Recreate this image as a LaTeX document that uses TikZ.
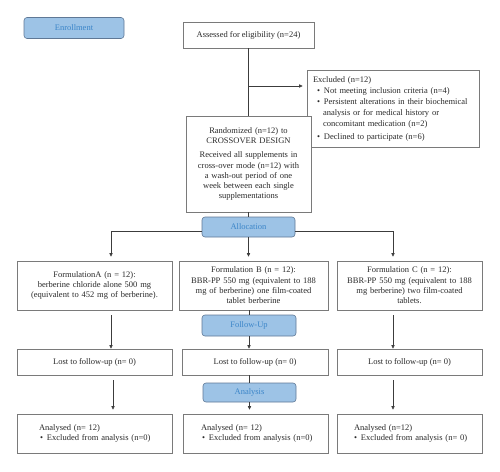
\documentclass[tikz,border=0pt]{standalone}
\usepackage{fontspec}
\setmainfont{Liberation Serif}
\usetikzlibrary{arrows.meta}
\definecolor{phasefill}{HTML}{9DC3E6}
\definecolor{phaseborder}{HTML}{5F7896}
\definecolor{phasetext}{HTML}{3C86C9}
\definecolor{boxgray}{HTML}{7A7A7A}
\definecolor{linegray}{HTML}{3C3C3C}
\definecolor{txtgray}{HTML}{2A2A2A}
\newcommand\fs{\fontsize{8.5}{10.3}\selectfont}
\tikzset{
  box/.style={draw=boxgray, line width=0.6pt, fill=white, inner sep=0pt, align=center, font=\fs, text=txtgray},
  lbox/.style={draw=boxgray, line width=0.6pt, fill=white, inner ysep=0pt, align=left, font=\fs, text=txtgray},
  phase/.style={draw=phaseborder, fill=phasefill, rounded corners=3pt, line width=0.6pt, text=phasetext, font=\fs, inner sep=0pt},
  ln/.style={draw=linegray, line width=0.6pt},
  arr/.style={ln, -{Triangle[length=3.5pt,width=3.2pt]}}
}
\begin{document}
\begin{tikzpicture}[x=1pt,y=-1pt]
\useasboundingbox (0,0) rectangle (500,471);
% enrollment
\node[phase, minimum width=100pt, minimum height=21pt] (enr) at (74,28) {Enrollment};
\node[box, minimum width=131pt, minimum height=26pt] (assess) at (248.5,35) {Assessed for eligibility (n=24)};
\node[lbox, minimum width=172pt, minimum height=77pt, text width=160pt, inner xsep=6pt, font=\fontsize{8.5}{11}\selectfont] (exc) at (393,108.5) {%
\mbox{Excluded (n=12)}\\
\mbox{\hspace*{4pt}•\hspace{4pt}Not meeting inclusion criteria (n=4)}\\
\mbox{\hspace*{4pt}•\hspace{4pt}Persistent alterations in their biochemical}\\
\mbox{\hspace*{10pt}analysis or for medical history or}\\
\mbox{\hspace*{10pt}concomitant medication (n=2)}\\[2pt]
\mbox{\hspace*{4pt}•\hspace{4pt}Declined to participate (n=6)}};
\node[box, minimum width=125pt, minimum height=96pt, text width=121pt] (rand) at (248.5,164) {%
Randomized (n=12) to\\
CROSSOVER DESIGN\\[4pt]
Received all supplements in\\
cross-over mode (n=12) with\\
a wash-out period of one\\
week between each single\\
supplementations};
\node[phase, minimum width=93pt, minimum height=20pt] (alloc) at (248.5,227) {Allocation};
% formulations
\node[box, minimum width=155pt, minimum height=49pt, text width=150pt] (formA) at (94.5,285.5) {%
FormulationA (n = 12):\\
berberine chloride alone 500 mg\\
(equivalent to 452 mg of berberine).};
\node[box, minimum width=149pt, minimum height=49pt, text width=145pt] (formB) at (253.5,285.5) {%
Formulation B (n = 12):\\
BBR-PP 550 mg (equivalent to 188\\
mg of berberine) one film-coated\\
tablet berberine};
\node[box, minimum width=145pt, minimum height=49pt, text width=141pt] (formC) at (409.5,285.5) {%
Formulation C (n = 12):\\
BBR-PP 550 mg (equivalent to 188\\
mg berberine) two film-coated\\
tablets.};
\node[phase, minimum width=94pt, minimum height=21pt] (fu) at (249,325.5) {Follow-Up};
% lost
\node[box, minimum width=155pt, minimum height=26pt] (lostA) at (94.5,362) {Lost to follow-up (n= 0)};
\node[box, minimum width=146pt, minimum height=26pt] (lostB) at (255,362) {Lost to follow-up (n= 0)};
\node[box, minimum width=145pt, minimum height=26pt] (lostC) at (409.5,362) {Lost to follow-up (n= 0)};
\node[phase, minimum width=93pt, minimum height=19pt] (ana) at (249.5,392.5) {Analysis};
% analysed
\node[lbox, minimum width=155pt, minimum height=39pt, text width=111pt, inner xsep=22pt] (anA) at (94.5,433.5) {%
\mbox{Analysed (n= 12)}\\
\mbox{\hspace*{1pt}•\hspace{4pt}Excluded from analysis (n=0)}};
\node[lbox, minimum width=145pt, minimum height=39pt, text width=109pt, inner xsep=18pt] (anB) at (255.5,433.5) {%
\mbox{Analysed (n= 12)}\\
\mbox{\hspace*{1pt}•\hspace{4pt}Excluded from analysis (n=0)}};
\node[lbox, minimum width=145pt, minimum height=39pt, text width=111pt, inner xsep=17pt] (anC) at (409.5,433.5) {%
\mbox{Analysed (n=12)}\\
\mbox{•\hspace{4pt}Excluded from analysis (n= 0)}};
% connectors
\coordinate (br) at (248.5,86);
\draw[ln] (assess.south) -- (rand.north);
\draw[arr, shorten >=4pt] (br) -- (br -| exc.west);
\draw[ln] (rand.south) -- (alloc.north);
\coordinate (hA) at (111,231);
\coordinate (hC) at (393,231);
\draw[ln] (hA -| alloc.west) -- (hA);
\draw[ln] (hC -| alloc.east) -- (hC);
\draw[arr, shorten >=4pt] (hA) -- (hA |- formA.north);
\draw[arr, shorten >=4pt] (hC) -- (hC |- formC.north);
\draw[arr, shorten >=4pt] (alloc.south) -- (alloc.south |- formB.north);
\coordinate (a1) at (111,315);
\coordinate (c1) at (393,315);
\draw[arr] (a1) -- (a1 |- lostA.north);
\draw[arr] (c1) -- (c1 |- lostC.north);
\draw[ln] (fu.north |- formB.south) -- (fu.north);
\draw[arr] (fu.south) -- (fu.south |- lostB.north);
\coordinate (a2) at (113,380);
\coordinate (c2) at (393,380);
\draw[arr, shorten >=4pt] (a2) -- (a2 |- anA.north);
\draw[arr, shorten >=4pt] (c2) -- (c2 |- anC.north);
\draw[ln] (ana.north |- lostB.south) -- (ana.north);
\draw[arr, shorten >=4pt] (ana.south) -- (ana.south |- anB.north);
\end{tikzpicture}
\end{document}
